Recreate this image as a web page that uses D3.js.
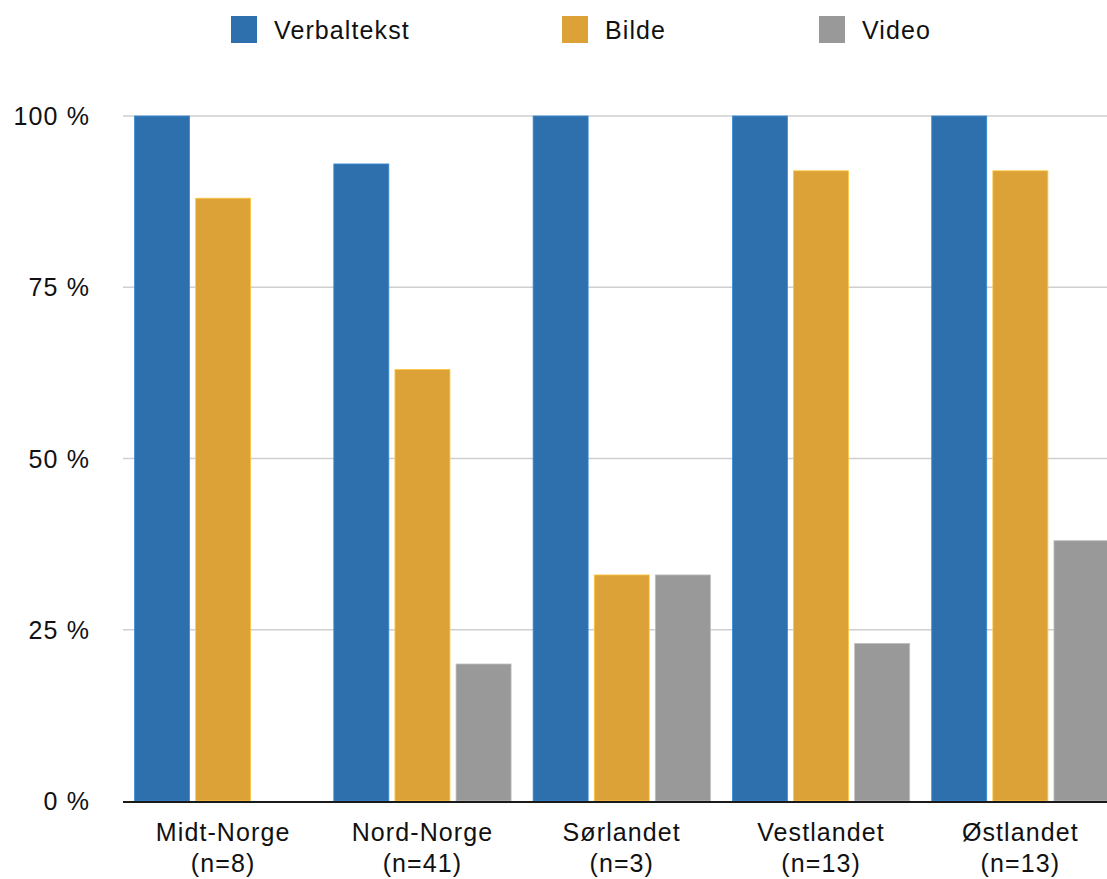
<!DOCTYPE html>
<html>
<head>
<meta charset="utf-8">
<script src="https://cdn.jsdelivr.net/npm/d3@7"></script>
<style>
  body { margin: 0; background: #fff; }
  svg { display: block; font-family: "Liberation Sans", Arial, Helvetica, sans-serif; }
</style>
</head>
<body>
<div id="chart"></div>
<script>
const width = 1107, height = 879;

// data
const regions = ["Midt-Norge", "Nord-Norge", "Sørlandet", "Vestlandet", "Østlandet"];
const counts = ["(n=8)", "(n=41)", "(n=3)", "(n=13)", "(n=13)"];
const series = ["Verbaltekst", "Bilde", "Video"];
const verbaltekst = [100, 93, 100, 100, 100];
const bilde = [88, 63, 33, 92, 92];
const video = [0, 20, 33, 23, 38];
const yTicks = [0, 25, 50, 75, 100];
const seriesColors = ["#2e70ad", "#dca237", "#999999"];

const values = [verbaltekst, bilde, video];
const rows = regions.map((r, i) => ({
  region: r,
  n: counts[i],
  vals: series.map((s, j) => ({ key: s, value: values[j][i] }))
}));

const margin = { left: 123, top: 116, bottom: 78 };
const plotRight = 1120;

var svg = d3.select("#chart")
  .append("svg")
  .attr("width", width)
  .attr("height", height);

const y = d3.scaleLinear()
  .domain([0, 100])
  .range([height - margin.bottom, margin.top]);

const x0 = d3.scaleBand()
  .domain(regions)
  .range([margin.left + 0.5, plotRight])
  .paddingInner(22 / 199)
  .paddingOuter(11 / 199);

const x1 = d3.scaleBand()
  .domain(series)
  .range([0, x0.bandwidth()])
  .paddingInner(0.1);

const color = d3.scaleOrdinal().domain(series).range(seriesColors);

// grid lines
svg.append("g")
  .selectAll("line")
  .data(yTicks.filter(d => d > 0))
  .enter().append("line")
  .attr("x1", margin.left)
  .attr("x2", width)
  .attr("y1", d => y(d))
  .attr("y2", d => y(d))
  .attr("stroke", "#cfcfcf")
  .attr("stroke-width", 1.5);

// y labels
svg.append("g")
  .selectAll("text")
  .data(yTicks)
  .enter().append("text")
  .attr("x", 90)
  .attr("y", d => y(d) + 9)
  .attr("text-anchor", "end")
  .attr("font-size", 25)
  .attr("letter-spacing", 1.1)
  .attr("fill", "#111")
  .text(d => d + " %");

// bars
const groups = svg.append("g")
  .selectAll("g")
  .data(rows)
  .enter().append("g")
  .attr("transform", d => `translate(${x0(d.region)},0)`);

groups.selectAll("rect")
  .data(d => d.vals.filter(v => v.value > 0))
  .enter().append("rect")
  .attr("x", d => x1(d.key))
  .attr("width", x1.bandwidth())
  .attr("y", d => y(d.value))
  .attr("height", d => y(0) - y(d.value))
  .attr("fill", d => color(d.key))
  .attr("stroke", d => d3.color(color(d.key)).brighter(0.6))
  .attr("stroke-width", 0.8);

// baseline
svg.append("line")
  .attr("x1", margin.left)
  .attr("x2", width)
  .attr("y1", y(0) + 1)
  .attr("y2", y(0) + 1)
  .attr("stroke", "#1a1a1a")
  .attr("stroke-width", 2);

// x labels
const xl = svg.append("g")
  .selectAll("text")
  .data(rows)
  .enter().append("text")
  .attr("text-anchor", "middle")
  .attr("font-size", 25)
  .attr("letter-spacing", 1.1)
  .attr("fill", "#111");

xl.append("tspan")
  .attr("x", d => x0(d.region) + x0.bandwidth() / 2)
  .attr("y", 841)
  .text(d => d.region);
xl.append("tspan")
  .attr("x", d => x0(d.region) + x0.bandwidth() / 2)
  .attr("y", 872)
  .text(d => d.n);

// legend
const legendX = [231, 562, 819];
const legend = svg.append("g")
  .selectAll("g")
  .data(series)
  .enter().append("g")
  .attr("transform", (d, i) => `translate(${legendX[i]},16)`);

legend.append("rect")
  .attr("width", 26)
  .attr("height", 27)
  .attr("fill", d => color(d));

legend.append("text")
  .attr("x", 43)
  .attr("y", 23)
  .attr("font-size", 25)
  .attr("letter-spacing", 1.1)
  .attr("fill", "#111")
  .text(d => d);
</script>
</body>
</html>
